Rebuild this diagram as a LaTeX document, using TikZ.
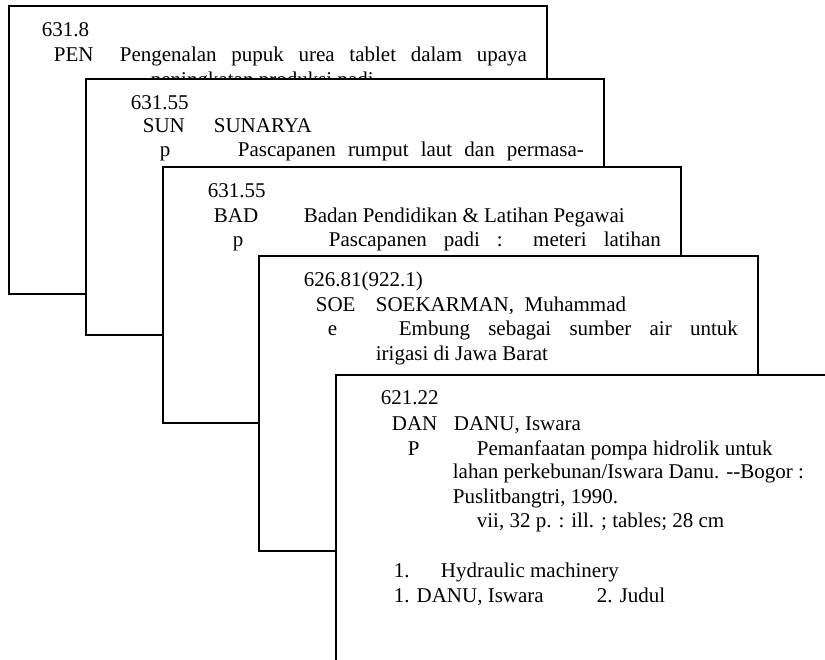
\documentclass[tikz,border=0pt]{standalone}
\usepackage{fontspec}
\setmainfont{Liberation Serif}
\usetikzlibrary{calc}

\begin{document}
\begin{tikzpicture}[x=1pt, y=-1pt, line width=1.8pt,
  card/.style = {draw, fill=white},
  txt/.style = {inner sep=0pt, anchor=base west, font=\fontsize{21}{24}\selectfont}]
  \useasboundingbox (0,0) rectangle (825,660);

  % Card 1 (back)
  \draw[card] (9,6) rectangle (547,294);
  \node[txt] (nA) at (41,37) {631.8};
  \node[txt] (cA) at (53,62) {PEN};
  \node[txt] (tA) at (119,62) {\makebox[407pt][s]{Pengenalan pupuk urea tablet dalam upaya}};
  \node[txt] (uA) at (150,87) {peningkatan produksi padi};

  % Card 2
  \draw[card] (86,79) rectangle (604,335);
  \node[txt] (nB) at (130,110) {631.55};
  \node[txt] (cB) at (142,133) {SUN};
  \node[txt] (aB) at (213,133) {SUNARYA};
  \node[txt] (pB) at (159,157) {p};
  \node[txt] (tB) at (237,157) {\makebox[346pt][s]{Pascapanen rumput laut dan permasa-}};

  % Card 3
  \draw[card] (163,167) rectangle (681,423);
  \node[txt] (nC) at (207,198) {631.55};
  \node[txt] (cC) at (213,223) {BAD};
  \node[txt] (aC) at (303,223) {Badan Pendidikan \& Latihan Pegawai};
  \node[txt] (pC) at (232,247) {p};
  \node[txt] (tC) at (328,247) {\makebox[332pt][s]{Pascapanen padi : meteri latihan}};

  % Card 4
  \draw[card] (259,256) rectangle (758,551);
  \node[txt] (nD) at (303,287) {626.81(922.1)};
  \node[txt] (cD) at (315,312) {SOE};
  \node[txt] (aD) at (375,312) {SOEKARMAN,\ \ Muhammad};
  \node[txt] (pD) at (327,336) {e};
  \node[txt] (tD) at (398,336) {\makebox[339pt][s]{Embung sebagai sumber air untuk}};
  \node[txt] (uD) at (375,360) {irigasi di Jawa Barat};

  % Card 5 (front, runs off the page)
  \fill[white] (336,375) rectangle (830,665);
  \draw (336,665) -- (336,375) -- (830,375);
  \node[txt] (nE) at (380,405) {621.22};
  \node[txt] (cE) at (391,430) {DAN};
  \node[txt] (aE) at (453,430) {DANU, Iswara};
  \node[txt] (pE) at (407,455) {P};
  \node[txt] (tE) at (476,455) {Pemanfaatan pompa hidrolik untuk};
  \node[txt] (uE) at (452,478) {lahan perkebunan/Iswara Danu. -{}-Bogor :};
  \node[txt] (vE) at (452,503) {Puslitbangtri, 1990.};
  \node[txt] (dE) at (476,527) {vii, 32 p. : ill. ; tables; 28 cm};
  \node[txt] (sE) at (393,577) {1.};
  \node[txt] (hE) at (440,577) {Hydraulic machinery};
  \node[txt] (iE) at (393,602) {1. DANU, Iswara};
  \node[txt] (jE) at (596,602) {2. Judul};
\end{tikzpicture}
\end{document}
